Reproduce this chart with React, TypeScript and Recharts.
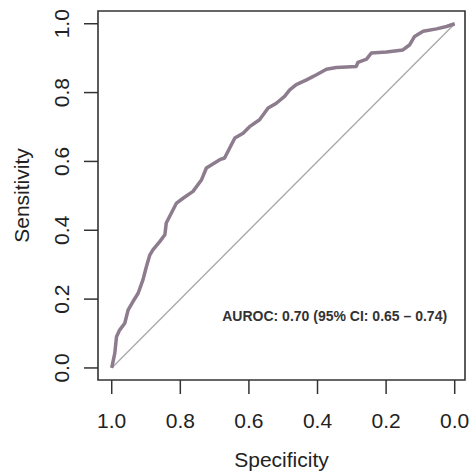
import { LineChart, Line, XAxis, YAxis, ReferenceLine, ReferenceArea, ReferenceDot } from "recharts";

// ROC curve: specificity (x, reversed) vs sensitivity (y)
const specificity = [
  1.0, 0.991, 0.986, 0.977, 0.962, 0.952, 0.938, 0.923, 0.909, 0.899, 0.889, 0.88, 0.86, 0.845, 0.841, 0.826,
  0.811, 0.792, 0.763, 0.738, 0.724, 0.685, 0.671, 0.656, 0.641, 0.617, 0.598, 0.569, 0.544, 0.52, 0.496,
  0.481, 0.462, 0.432, 0.403, 0.374, 0.345, 0.287, 0.282, 0.257, 0.243, 0.199, 0.151, 0.131, 0.117, 0.092,
  0.053, 0.024, 0.0,
];
const sensitivity = [
  0.0, 0.043, 0.091, 0.11, 0.13, 0.169, 0.193, 0.217, 0.256, 0.294, 0.328, 0.343, 0.367, 0.387, 0.421, 0.45,
  0.479, 0.493, 0.513, 0.547, 0.581, 0.605, 0.61, 0.639, 0.668, 0.682, 0.701, 0.721, 0.755, 0.769, 0.789,
  0.808, 0.823, 0.837, 0.852, 0.868, 0.873, 0.876, 0.888, 0.897, 0.915, 0.918, 0.924, 0.939, 0.963, 0.978,
  0.985, 0.992, 1.0,
];
const xTicks = [1, 0.8, 0.6, 0.4, 0.2, 0];
const yTicks = [0, 0.2, 0.4, 0.6, 0.8, 1];
const aurocText = "AUROC: 0.70 (95% CI: 0.65 \u2013 0.74)";

const X_DOMAIN: [number, number] = [-0.03, 1.04];
const Y_DOMAIN: [number, number] = [-0.035, 1.037];

const data = specificity.map((s, i) => ({ spec: s, sens: sensitivity[i] }));

const FONT = "'Liberation Sans', Arial, Helvetica, sans-serif";
const INK = "#222";

function XTick({ x, payload }: any) {
  return (
    <text x={x} y={428} textAnchor="middle" fontSize={21} fill={INK} fontFamily={FONT}>
      {Number(payload.value).toFixed(1)}
    </text>
  );
}

function YTick({ y, payload }: any) {
  const bx = 69.5;
  return (
    <text x={bx} y={y} transform={`rotate(-90, ${bx}, ${y})`} textAnchor="middle" fontSize={21} fill={INK} fontFamily={FONT}>
      {Number(payload.value).toFixed(1)}
    </text>
  );
}

export default function App() {
  return (
    <div style={{ position: "absolute", left: 0, top: 0, width: 470, height: 476, background: "#fff", fontFamily: FONT }}>
      <LineChart width={470} height={476} data={data} margin={{ top: 11, right: 5, left: 0, bottom: 0 }}>
        <XAxis
          dataKey="spec"
          type="number"
          reversed
          domain={X_DOMAIN}
          ticks={xTicks}
          allowDataOverflow
          height={96}
          axisLine={false}
          tickLine={{ stroke: "#333", strokeWidth: 1.5 }}
          tickSize={14}
          tick={<XTick />}
          label={{
            content: ({ viewBox }: any) => (
              <text x={viewBox.x + viewBox.width / 2} y={467} textAnchor="middle" fontSize={21} fill={INK} fontFamily={FONT}>
                Specificity
              </text>
            ),
          }}
        />
        <YAxis
          dataKey="sens"
          type="number"
          domain={Y_DOMAIN}
          ticks={yTicks}
          allowDataOverflow
          width={98}
          axisLine={false}
          tickLine={{ stroke: "#333", strokeWidth: 1.5 }}
          tickSize={14}
          tick={<YTick />}
          label={{
            content: ({ viewBox }: any) => {
              const cy = viewBox.y + viewBox.height / 2;
              return (
                <text x={29} y={cy} transform={`rotate(-90, 29, ${cy})`} textAnchor="middle" fontSize={21} fill={INK} fontFamily={FONT}>
                  Sensitivity
                </text>
              );
            },
          }}
        />
        <ReferenceLine
          segment={[{ x: 1, y: 0 }, { x: 0, y: 1 }]}
          stroke="#a8a8a8"
          strokeWidth={1.3}
          ifOverflow="visible"
        />
        <Line
          type="linear"
          dataKey="sens"
          stroke="#8d7b8e"
          strokeWidth={3.5}
          strokeLinejoin="round"
          dot={false}
          activeDot={false}
          isAnimationActive={false}
        />
        <ReferenceArea
          x1={X_DOMAIN[1]}
          x2={X_DOMAIN[0]}
          y1={Y_DOMAIN[0]}
          y2={Y_DOMAIN[1]}
          fill="none"
          fillOpacity={0}
          stroke="#333"
          strokeWidth={1.6}
          ifOverflow="visible"
        />
        <ReferenceDot
          x={0.35}
          y={0.15}
          r={0}
          fill="none"
          stroke="none"
          ifOverflow="visible"
          label={{
            content: ({ viewBox }: any) => (
              <text x={viewBox.x + (viewBox.width || 0) / 2} y={viewBox.y + 5} textAnchor="middle" fontSize={14} fontWeight="bold" fill="#333" fontFamily={FONT}>
                {aurocText}
              </text>
            ),
          }}
        />
      </LineChart>
    </div>
  );
}
